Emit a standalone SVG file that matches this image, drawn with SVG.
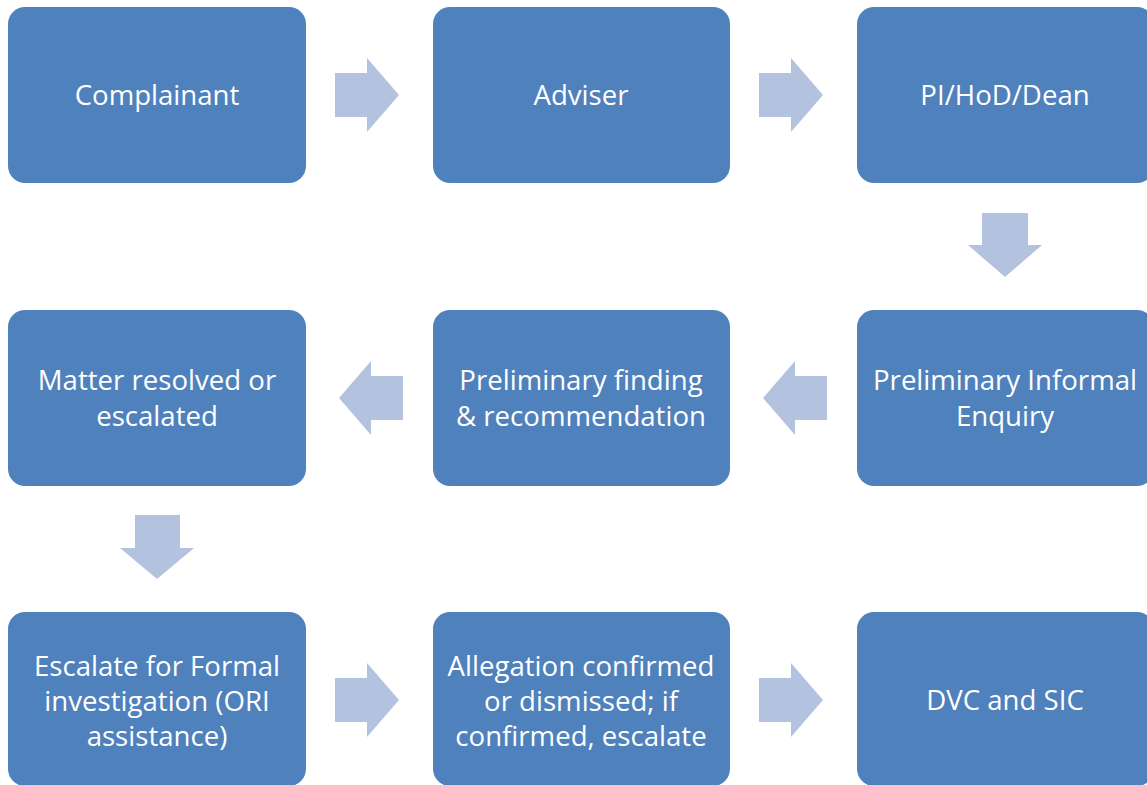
<svg xmlns="http://www.w3.org/2000/svg" width="1147" height="785" viewBox="0 0 1147 785">
<style>
.box{fill:#4F81BD}
.arr{fill:#B3C2DE}
text{font-family:"Open Sans","Liberation Sans",sans-serif;font-size:27.6px;fill:#FFFFFF;text-anchor:middle;dominant-baseline:central}
</style>
<rect width="1147" height="785" fill="#FFFFFF"/>
<g id="connectors">
<polygon class="arr" points="335,73 367,73 367,58 399,95 367,132 367,117 335,117"/>
<polygon class="arr" points="759,73 791,73 791,58 823,95 791,132 791,117 759,117"/>
<polygon class="arr" points="982,213 1028,213 1028,245 1042,245 1005,277 968,245 982,245"/>
<polygon class="arr" points="827,376 795,376 795,361 763,398 795,435 795,420 827,420"/>
<polygon class="arr" points="403,376 371,376 371,361 339,398 371,435 371,420 403,420"/>
<polygon class="arr" points="135,515 180,515 180,548 194,548 157,579 120,548 135,548"/>
<polygon class="arr" points="335,678 367,678 367,663 399,700 367,737 367,722 335,722"/>
<polygon class="arr" points="759,678 791,678 791,663 823,700 791,737 791,722 759,722"/>
</g>
<g id="n1"><rect class="box" x="8" y="7" width="298" height="176" rx="17"/><text x="157" y="94">Complainant</text></g>
<g id="n2"><rect class="box" x="433" y="7" width="297" height="176" rx="17"/><text x="581" y="94">Adviser</text></g>
<g id="n3"><rect class="box" x="857" y="7" width="297" height="176" rx="17"/><text x="1005" y="94">PI/HoD/Dean</text></g>
<g id="n4"><rect class="box" x="857" y="310" width="297" height="176" rx="17"/><text x="1005" y="379">Preliminary Informal<tspan x="1005" dy="35.5">Enquiry</tspan></text></g>
<g id="n5"><rect class="box" x="433" y="310" width="297" height="176" rx="17"/><text x="581" y="379">Preliminary finding<tspan x="581" dy="35.5">&amp; recommendation</tspan></text></g>
<g id="n6"><rect class="box" x="8" y="310" width="298" height="176" rx="17"/><text x="157" y="379">Matter resolved or<tspan x="157" dy="35.5">escalated</tspan></text></g>
<g id="n7"><rect class="box" x="8" y="612" width="298" height="174" rx="17"/><text x="157" y="665">Escalate for Formal<tspan x="157" dy="35">investigation (ORI</tspan><tspan x="157" dy="35">assistance)</tspan></text></g>
<g id="n8"><rect class="box" x="433" y="612" width="297" height="174" rx="17"/><text x="581" y="665">Allegation confirmed<tspan x="581" dy="35">or dismissed; if</tspan><tspan x="581" dy="35">confirmed, escalate</tspan></text></g>
<g id="n9"><rect class="box" x="857" y="612" width="297" height="174" rx="17"/><text x="1005" y="699">DVC and SIC</text></g>
</svg>
